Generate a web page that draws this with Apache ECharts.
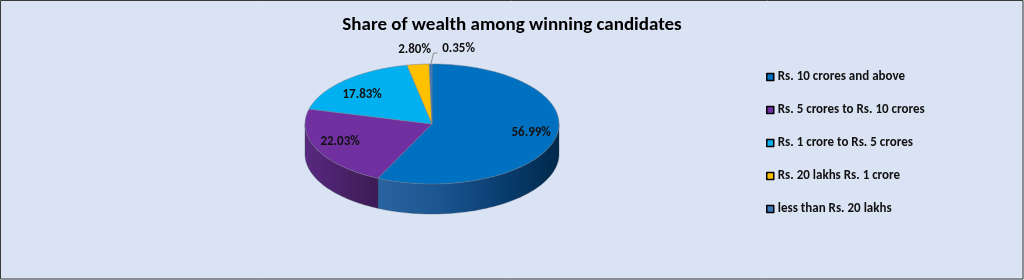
<!DOCTYPE html>
<html>
<head>
<meta charset="utf-8">
<script src="https://cdn.jsdelivr.net/npm/echarts@6/dist/echarts.min.js"></script>
<style>
html,body{margin:0;padding:0;background:#DAE3F3;}
#c{width:1024px;height:280px;}
</style>
</head>
<body>
<div id="c"></div>
<script>
const titleText = 'Share of wealth among winning candidates';
const categories = ['Rs. 10 crores and above', 'Rs. 5 crores to Rs. 10 crores', 'Rs. 1 crore to Rs. 5 crores', 'Rs. 20 lakhs Rs. 1 crore', 'less than Rs. 20 lakhs'];
const values = [56.99, 22.03, 17.83, 2.80, 0.35];
const colors = ['#0070C0', '#7030A0', '#00B0F0', '#FFC000', '#3A78B5'];
const sideColors = [
  ['#2A64A0', '#1A5590', '#083C6E', '#00294B'],
  ['#58297F', '#4E2372', '#45205F', '#3C1A55'],
  ['#0088BB', '#0078A8', '#006890', '#005878'],
  ['#C89600', '#B88800', '#A87800', '#986A00'],
  ['#2A5A8A', '#204C78', '#183E66', '#103054']
];

const FONT = 'Carlito, Lato, "Open Sans", sans-serif';
const total = values.reduce((a, b) => a + b, 0);
const cum = [0];
values.forEach(v => cum.push(cum[cum.length - 1] + v));

const G = { cx: 432, cy: 124, rx: 127, ry: 60, depth: 30 };
function P(t, dy) {
  return [G.cx + G.rx * Math.sin(t), G.cy - G.ry * Math.cos(t) + (dy || 0)];
}

function renderItem(params, api) {
  const i = params.dataIndex;
  const a0 = cum[i] / total * 2 * Math.PI;
  const a1 = cum[i + 1] / total * 2 * Math.PI;
  const children = [];
  // top surface
  const pts = [[G.cx, G.cy]];
  const n = Math.max(2, Math.ceil((a1 - a0) / 0.02));
  for (let k = 0; k <= n; k++) pts.push(P(a0 + (a1 - a0) * k / n));
  children.push({
    type: 'polygon', z2: 10,
    shape: { points: pts },
    style: { fill: colors[i], stroke: 'rgba(120,125,140,0.8)', lineWidth: 0.6 }
  });
  // side wall (front half only)
  const s0 = Math.max(a0, Math.PI / 2), s1 = Math.min(a1, 1.5 * Math.PI);
  if (s1 > s0) {
    const m = Math.max(2, Math.ceil((s1 - s0) / 0.02));
    const sp = [];
    for (let k = 0; k <= m; k++) sp.push(P(s0 + (s1 - s0) * k / m));
    for (let k = m; k >= 0; k--) sp.push(P(s0 + (s1 - s0) * k / m, G.depth));
    const sc = sideColors[i];
    children.push({
      type: 'polygon', z2: 1,
      shape: { points: sp },
      style: {
        fill: {
          type: 'linear', x: 0, y: 0, x2: 1, y2: 0,
          colorStops: [
            { offset: 0, color: sc[0] }, { offset: 0.35, color: sc[1] },
            { offset: 0.7, color: sc[2] }, { offset: 1, color: sc[3] }
          ]
        },
        stroke: 'rgba(60,70,90,0.6)', lineWidth: 0.6
      }
    });
  }
  // label
  const mid = (a0 + a1) / 2;
  const txt = values[i].toFixed(2) + '%';
  const share = values[i] / total;
  let lx, ly;
  if (share >= 0.05) {
    lx = G.cx + 0.8 * G.rx * Math.sin(mid);
    ly = G.cy - 0.68 * G.ry * Math.cos(mid);
  } else {
    lx = G.cx + 1.25 * G.rx * Math.sin(mid);
    ly = G.cy - 1.25 * G.ry * Math.cos(mid);
    let shifted = false;
    if (i > 0 && values[i - 1] / total < 0.05) {
      const pm = (cum[i - 1] + cum[i]) / 2 / total * 2 * Math.PI;
      const px = G.cx + 1.25 * G.rx * Math.sin(pm);
      if (lx < px + 40) { lx = px + 44; shifted = true; }
    }
    if (shifted) {
      const e = P(mid);
      children.push({
        type: 'polyline', z2: 20,
        shape: { points: [[lx - 21, ly + 4], [lx - 25, ly + 4], [e[0], e[1] + 1]] },
        style: { stroke: '#8c8c8c', lineWidth: 1, fill: null }
      });
    }
  }
  children.push({
    type: 'text', z2: 30,
    style: {
      x: lx, y: ly, text: txt, align: 'center', verticalAlign: 'middle',
      font: 'bold 13px ' + FONT, fill: '#111'
    }
  });
  return { type: 'group', children };
}

const chart = echarts.init(document.getElementById('c'), null, { renderer: 'canvas' });
chart.setOption({
  backgroundColor: '#DAE3F3',
  animation: false,
  title: {
    text: titleText, left: 'center', top: 11,
    textStyle: { fontFamily: FONT, fontSize: 19, fontWeight: 'bold', color: '#000' }
  },
  legend: {
    orient: 'vertical', left: 766, top: 70, padding: 0,
    icon: 'rect', itemWidth: 7, itemHeight: 7, itemGap: 19,
    itemStyle: { borderColor: '#000', borderWidth: 1.5 },
    textStyle: { fontFamily: FONT, fontSize: 13, fontWeight: 'bold', color: '#111', lineHeight: 14, padding: [0, 0, 0, -1] },
    data: categories
  },
  graphic: [{
    type: 'rect', silent: true, z: 100,
    shape: { x: 0.5, y: 0.5, width: 1022.5, height: 278.5 },
    style: { fill: null, stroke: '#3a3a3a', lineWidth: 1 }
  }],
  series: [
    {
      type: 'pie', name: 'legendSource', silent: true,
      center: [-300, -300], radius: 5,
      label: { show: false }, labelLine: { show: false },
      data: categories.map((c, i) => ({ name: c, value: values[i], itemStyle: { color: colors[i] } }))
    },
    {
      type: 'custom', name: 'pie3d', coordinateSystem: 'none', silent: true,
      renderItem: renderItem,
      data: values.map((v, i) => ({ name: categories[i], value: v }))
    }
  ]
});
</script>
</body>
</html>
